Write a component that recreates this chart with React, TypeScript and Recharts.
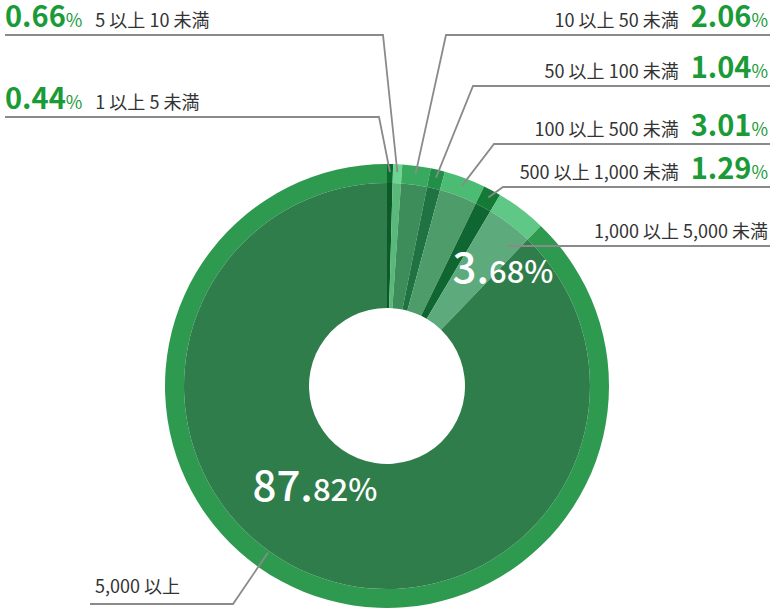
import React from 'react';
import { PieChart, Pie, Cell } from 'recharts';

// holdings bands, clockwise from 12 o'clock
const bands = [
  '1 以上 5 未満',
  '5 以上 10 未満',
  '10 以上 50 未満',
  '50 以上 100 未満',
  '100 以上 500 未満',
  '500 以上 1,000 未満',
  '1,000 以上 5,000 未満',
  '5,000 以上',
];
const shares = [0.44, 0.66, 2.06, 1.04, 3.01, 1.29, 3.68, 87.82];

// outer rim and inner body colours per slice
const rimColors = ['#0c6b2c', '#6dd593', '#3aa960', '#218f48', '#4cbb73', '#147a35', '#5fc886', '#2e9a50'];
const bodyColors = ['#0b5a27', '#58b97a', '#3d8d5a', '#1f7343', '#4e9c6a', '#0f6630', '#5daa7c', '#2f7d4a'];

const data = bands.map((name, i) => ({ name, value: shares[i] }));

const GREEN = '#1a9b38';
const LINE = '#8a8a8a';
const FONT = '"Noto Sans CJK JP", "Noto Sans", sans-serif';

type Layout = {
  side: 'left' | 'right';
  lineY: number;
  elbowX: number;
  r: number;
  shift: number;
  inside?: { r: number; shift: number };
};

// leader line / label placement per slice
const labelLayout: Layout[] = [
  { side: 'left', lineY: 117, elbowX: 379, r: 214, shift: 0 },
  { side: 'left', lineY: 35, elbowX: 383, r: 214, shift: 0 },
  { side: 'right', lineY: 35, elbowX: 446, r: 214, shift: 0 },
  { side: 'right', lineY: 86, elbowX: 473, r: 214, shift: 0 },
  { side: 'right', lineY: 144, elbowX: 494, r: 214, shift: 0 },
  { side: 'right', lineY: 187, elbowX: 503, r: 214, shift: 0 },
  { side: 'right', lineY: 246, elbowX: 510, r: 185, shift: 3.6, inside: { r: 164, shift: 7.8 } },
  { side: 'left', lineY: 604, elbowX: 233, r: 205, shift: 13.6, inside: { r: 125, shift: 13.3 } },
];

const point = (cx: number, cy: number, r: number, deg: number) => {
  const rad = (deg * Math.PI) / 180;
  return { x: cx + r * Math.sin(rad), y: cy - r * Math.cos(rad) };
};

const splitPct = (v: number) => {
  const [a, b] = v.toFixed(2).split('.');
  return { head: a + '.', tail: b };
};

const renderLabel = (props: any) => {
  const { cx, cy, midAngle, index } = props;
  const lay = labelLayout[index];
  const theta = 90 - midAngle; // clockwise from top
  const start = point(cx, cy, lay.r, theta + lay.shift);
  const endX = lay.side === 'left' ? (lay.inside ? 90 : 5) : 770;
  const value = shares[index];
  const textY = lay.lineY - 8;

  let caption: React.ReactNode;
  if (lay.inside) {
    caption = (
      <text x={lay.side === 'left' ? 95 : 768} y={textY - (lay.side === 'left' ? 3 : 0)}
        textAnchor={lay.side === 'left' ? 'start' : 'end'} fontFamily={FONT} fontSize={18} fill="#333">
        {bands[index]}
      </text>
    );
  } else if (lay.side === 'left') {
    caption = (
      <text x={5} y={textY} fontFamily={FONT} fill={GREEN}>
        <tspan fontSize={29} fontWeight={700}>{value.toFixed(2)}</tspan>
        <tspan fontSize={18}>%</tspan>
        <tspan dx={13} fontSize={18} fill="#333">{bands[index]}</tspan>
      </text>
    );
  } else {
    caption = (
      <text x={768} y={textY} textAnchor="end" fontFamily={FONT} fill={GREEN}>
        <tspan fontSize={18} fill="#333">{bands[index]}</tspan>
        <tspan dx={12} fontSize={29} fontWeight={700}>{value.toFixed(2)}</tspan>
        <tspan fontSize={18}>%</tspan>
      </text>
    );
  }

  let inner: React.ReactNode = null;
  if (lay.inside) {
    const p = point(cx, cy, lay.inside.r, theta + lay.inside.shift);
    const { head, tail } = splitPct(value);
    inner = (
      <text x={p.x} y={p.y + 13} textAnchor="middle" fontFamily={FONT} fontWeight={500} fill="#fff">
        <tspan fontSize={42}>{head}</tspan>
        <tspan fontSize={31}>{tail}%</tspan>
      </text>
    );
  }

  return (
    <g key={`lbl-${index}`}>
      <polyline
        points={`${start.x},${start.y} ${lay.elbowX},${lay.lineY} ${endX},${lay.lineY}`}
        fill="none"
        stroke={LINE}
        strokeWidth={1.8}
      />
      {caption}
      {inner}
    </g>
  );
};

export default function App() {
  return (
    <div style={{ position: 'absolute', left: 0, top: 0, width: 773, height: 608, background: '#fff' }}>
      <PieChart width={773} height={608} margin={{ top: 0, right: 0, bottom: 0, left: 0 }}>
        <Pie
          data={data}
          dataKey="value"
          nameKey="name"
          cx={387}
          cy={386}
          startAngle={90}
          endAngle={-270}
          innerRadius={203}
          outerRadius={222}
          stroke="none"
          isAnimationActive={false}
        >
          {data.map((d, i) => (
            <Cell key={`rim-${i}`} fill={rimColors[i]} stroke="none" />
          ))}
        </Pie>
        <Pie
          data={data}
          dataKey="value"
          nameKey="name"
          cx={387}
          cy={386}
          startAngle={90}
          endAngle={-270}
          innerRadius={78}
          outerRadius={203}
          stroke="none"
          labelLine={false}
          label={renderLabel}
          isAnimationActive={false}
        >
          {data.map((d, i) => (
            <Cell key={`body-${i}`} fill={bodyColors[i]} stroke="none" />
          ))}
        </Pie>
      </PieChart>
    </div>
  );
}
